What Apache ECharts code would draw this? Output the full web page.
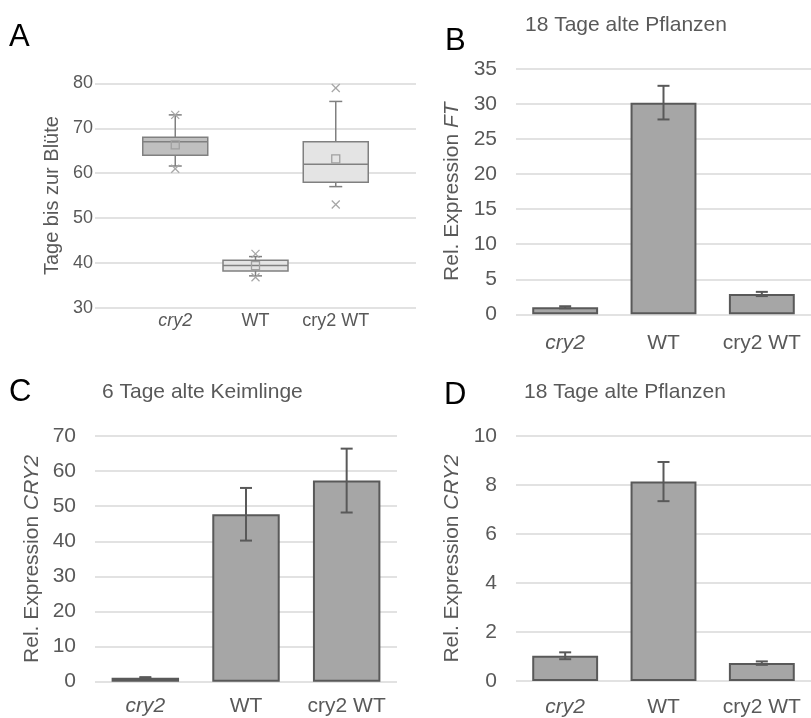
<!DOCTYPE html>
<html>
<head>
    <meta charset="UTF-8">
    <title>cry2 Bluete und Expression</title>
    <script src="https://cdn.jsdelivr.net/npm/echarts@6/dist/echarts.min.js"></script>
    <style>
        html, body { margin: 0; padding: 0; background: #fff; }
        #main { width: 811px; height: 718px; }
    </style>
</head>
<body>
<div id="main"></div>
<script type="text/javascript">
    // Genotypen (x-Achse in allen Teilbildern)
    var genotypes = ['cry2', 'WT', 'cry2 WT'];

    // A: Tage bis zur Bluete (Boxplot)
    var boxLow = [61.6, 37.1, 57];
    var boxQ1 = [64, 38.2, 58];
    var boxMedian = [67, 39.4, 62];
    var boxQ3 = [68, 40.6, 67];
    var boxHigh = [73, 41.4, 76];
    var boxMean = [66.3, 39.4, 63.2];
    var pointsHigh = [73, 42, 79];
    var pointsLow = [61, 36.8, 53];

    // B: Rel. Expression FT, 18 Tage alte Pflanzen
    var ftMean = [1.0, 30.2, 2.9];
    var ftErr = [0.15, 2.4, 0.3];

    // C: Rel. Expression CRY2, 6 Tage alte Keimlinge
    var cry2SeedMean = [1.1, 47.7, 57.3];
    var cry2SeedErr = [0.2, 7.5, 9.1];

    // D: Rel. Expression CRY2, 18 Tage alte Pflanzen
    var cry2PlantMean = [1.03, 8.14, 0.73];
    var cry2PlantErr = [0.14, 0.8, 0.07];

    var font = 'Liberation Sans, Arial, Helvetica, sans-serif';
    var textColor = '#595959';
    var gridColor = '#d9d9d9';
    var barFill = '#a6a6a6';
    var barLine = '#595959';
    var boxFills = ['#bfbfbf', '#e4e4e4', '#e4e4e4'];

    var chart = echarts.init(document.getElementById('main'));

    function catLabel(v) {
        return v === 'cry2' ? '{i|cry2}' : v;
    }

    function yAxisFor(idx, min, max, step, name, gap, labelSize, labelMargin, nameSize) {
        return {
            gridIndex: idx,
            type: 'value',
            min: min,
            max: max,
            interval: step,
            name: name,
            nameLocation: 'middle',
            nameGap: gap,
            nameTextStyle: {
                fontSize: nameSize, color: textColor, fontFamily: font,
                rich: { i: { fontStyle: 'italic', fontSize: nameSize, color: textColor, fontFamily: font } }
            },
            axisLine: { show: false },
            axisTick: { show: false },
            axisLabel: { fontSize: labelSize, color: textColor, fontFamily: font, margin: labelMargin },
            splitLine: { show: true, lineStyle: { color: gridColor, width: 1.5 } }
        };
    }

    function xAxisFor(idx, data, gapOn, labelSize, labelMargin) {
        return {
            gridIndex: idx,
            type: 'category',
            data: data,
            boundaryGap: gapOn,
            axisLine: { show: false },
            axisTick: { show: false },
            splitLine: { show: false },
            axisLabel: {
                interval: 0,
                fontSize: labelSize, color: textColor, fontFamily: font, margin: labelMargin,
                formatter: catLabel,
                rich: { i: { fontStyle: 'italic', fontSize: labelSize, color: textColor, fontFamily: font } }
            }
        };
    }

    function renderBox(params, api) {
        var x = api.value(0);
        var w = api.size([1, 0])[0] * 0.81;
        var cap = 13;
        var low = api.coord([x, api.value(1)]);
        var q1 = api.coord([x, api.value(2)]);
        var med = api.coord([x, api.value(3)]);
        var q3 = api.coord([x, api.value(4)]);
        var high = api.coord([x, api.value(5)]);
        var mean = api.coord([x, api.value(6)]);
        var pHi = api.coord([x, api.value(7)]);
        var pLo = api.coord([x, api.value(8)]);
        var cx = q1[0];
        var line = { stroke: '#808080', lineWidth: 1.5 };
        var mark = { stroke: '#a6a6a6', lineWidth: 1.3 };
        var s = 4;
        function cross(p) {
            return [
                { type: 'line', shape: { x1: p[0] - s, y1: p[1] - s, x2: p[0] + s, y2: p[1] + s }, style: mark },
                { type: 'line', shape: { x1: p[0] - s, y1: p[1] + s, x2: p[0] + s, y2: p[1] - s }, style: mark }
            ];
        }
        var children = [
            { type: 'line', shape: { x1: cx, y1: high[1], x2: cx, y2: q3[1] }, style: line },
            { type: 'line', shape: { x1: cx, y1: q1[1], x2: cx, y2: low[1] }, style: line },
            { type: 'line', shape: { x1: cx - cap / 2, y1: high[1], x2: cx + cap / 2, y2: high[1] }, style: line },
            { type: 'line', shape: { x1: cx - cap / 2, y1: low[1], x2: cx + cap / 2, y2: low[1] }, style: line },
            {
                type: 'rect',
                shape: { x: cx - w / 2, y: q3[1], width: w, height: q1[1] - q3[1] },
                style: { fill: boxFills[params.dataIndex], stroke: '#808080', lineWidth: 1.5 }
            },
            { type: 'line', shape: { x1: cx - w / 2, y1: med[1], x2: cx + w / 2, y2: med[1] }, style: line },
            {
                type: 'rect',
                shape: { x: cx - 4, y: mean[1] - 4, width: 8, height: 8 },
                style: { fill: 'none', stroke: '#a0a0a0', lineWidth: 1.3 }
            }
        ];
        return { type: 'group', children: children.concat(cross(pHi), cross(pLo)) };
    }

    function renderErr(params, api) {
        var x = api.value(0);
        var top = api.coord([x, api.value(1) + api.value(2)]);
        var bot = api.coord([x, api.value(1) - api.value(2)]);
        var cap = 12;
        var st = { stroke: barLine, lineWidth: 2 };
        return {
            type: 'group',
            children: [
                { type: 'line', shape: { x1: top[0], y1: top[1], x2: bot[0], y2: bot[1] }, style: st },
                { type: 'line', shape: { x1: top[0] - cap / 2, y1: top[1], x2: top[0] + cap / 2, y2: top[1] }, style: st },
                { type: 'line', shape: { x1: bot[0] - cap / 2, y1: bot[1], x2: bot[0] + cap / 2, y2: bot[1] }, style: st }
            ]
        };
    }

    function barSeries(idx, means) {
        return {
            type: 'bar',
            xAxisIndex: idx,
            yAxisIndex: idx,
            barWidth: '67%',
            data: means,
            itemStyle: { color: barFill, borderColor: barLine, borderWidth: 2 },
            silent: true
        };
    }

    function errSeries(idx, means, errs) {
        return {
            type: 'custom',
            xAxisIndex: idx,
            yAxisIndex: idx,
            renderItem: renderErr,
            data: means.map(function (m, i) { return [i, m, errs[i]]; }),
            z: 5,
            silent: true
        };
    }

    var boxData = genotypes.map(function (g, i) {
        return [g, boxLow[i], boxQ1[i], boxMedian[i], boxQ3[i], boxHigh[i], boxMean[i], pointsHigh[i], pointsLow[i]];
    });

    function textEl(x, y, text, size, color) {
        return {
            type: 'text',
            x: x,
            y: y,
            style: { text: text, fontSize: size, fontFamily: font, fill: color, verticalAlign: 'middle', textVerticalAlign: 'middle' }
        };
    }

    var option = {
        animation: false,
        backgroundColor: '#ffffff',
        graphic: [
            textEl(9, 37, 'A', 31, '#000000'),
            textEl(445, 41, 'B', 31, '#000000'),
            textEl(9, 392, 'C', 31, '#000000'),
            textEl(444, 395, 'D', 31, '#000000'),
            textEl(525, 25, '18 Tage alte Pflanzen', 21, textColor),
            textEl(102, 392, '6 Tage alte Keimlinge', 21, textColor),
            textEl(524, 392, '18 Tage alte Pflanzen', 21, textColor)
        ],
        grid: [
            { left: 95, right: 395, top: 83.5, bottom: 410.3 },
            { left: 516, right: -9, top: 69, bottom: 403.7 },
            { left: 95, right: 414, top: 436, bottom: 36.3 },
            { left: 516, right: -9, top: 436, bottom: 36.3 }
        ],
        xAxis: [
            xAxisFor(0, [' '].concat(genotypes, ['  ']), false, 18, 4),
            xAxisFor(1, genotypes, true, 21, 18),
            xAxisFor(2, genotypes, true, 21, 14),
            xAxisFor(3, genotypes, true, 21, 16)
        ],
        yAxis: [
            yAxisFor(0, 30, 80, 10, 'Tage bis zur Blüte', 33, 18, 2, 20),
            yAxisFor(1, 0, 35, 5, 'Rel. Expression {i|FT}', 53, 21, 19, 21),
            yAxisFor(2, 0, 70, 10, 'Rel. Expression {i|CRY2}', 52, 21, 19, 21),
            yAxisFor(3, 0, 10, 2, 'Rel. Expression {i|CRY2}', 53, 21, 19, 21)
        ],
        series: [
            {
                type: 'custom',
                xAxisIndex: 0,
                yAxisIndex: 0,
                renderItem: renderBox,
                data: boxData,
                z: 5,
                silent: true
            },
            barSeries(1, ftMean),
            errSeries(1, ftMean, ftErr),
            barSeries(2, cry2SeedMean),
            errSeries(2, cry2SeedMean, cry2SeedErr),
            barSeries(3, cry2PlantMean),
            errSeries(3, cry2PlantMean, cry2PlantErr)
        ]
    };

    option && chart.setOption(option);
</script>
</body>
</html>
